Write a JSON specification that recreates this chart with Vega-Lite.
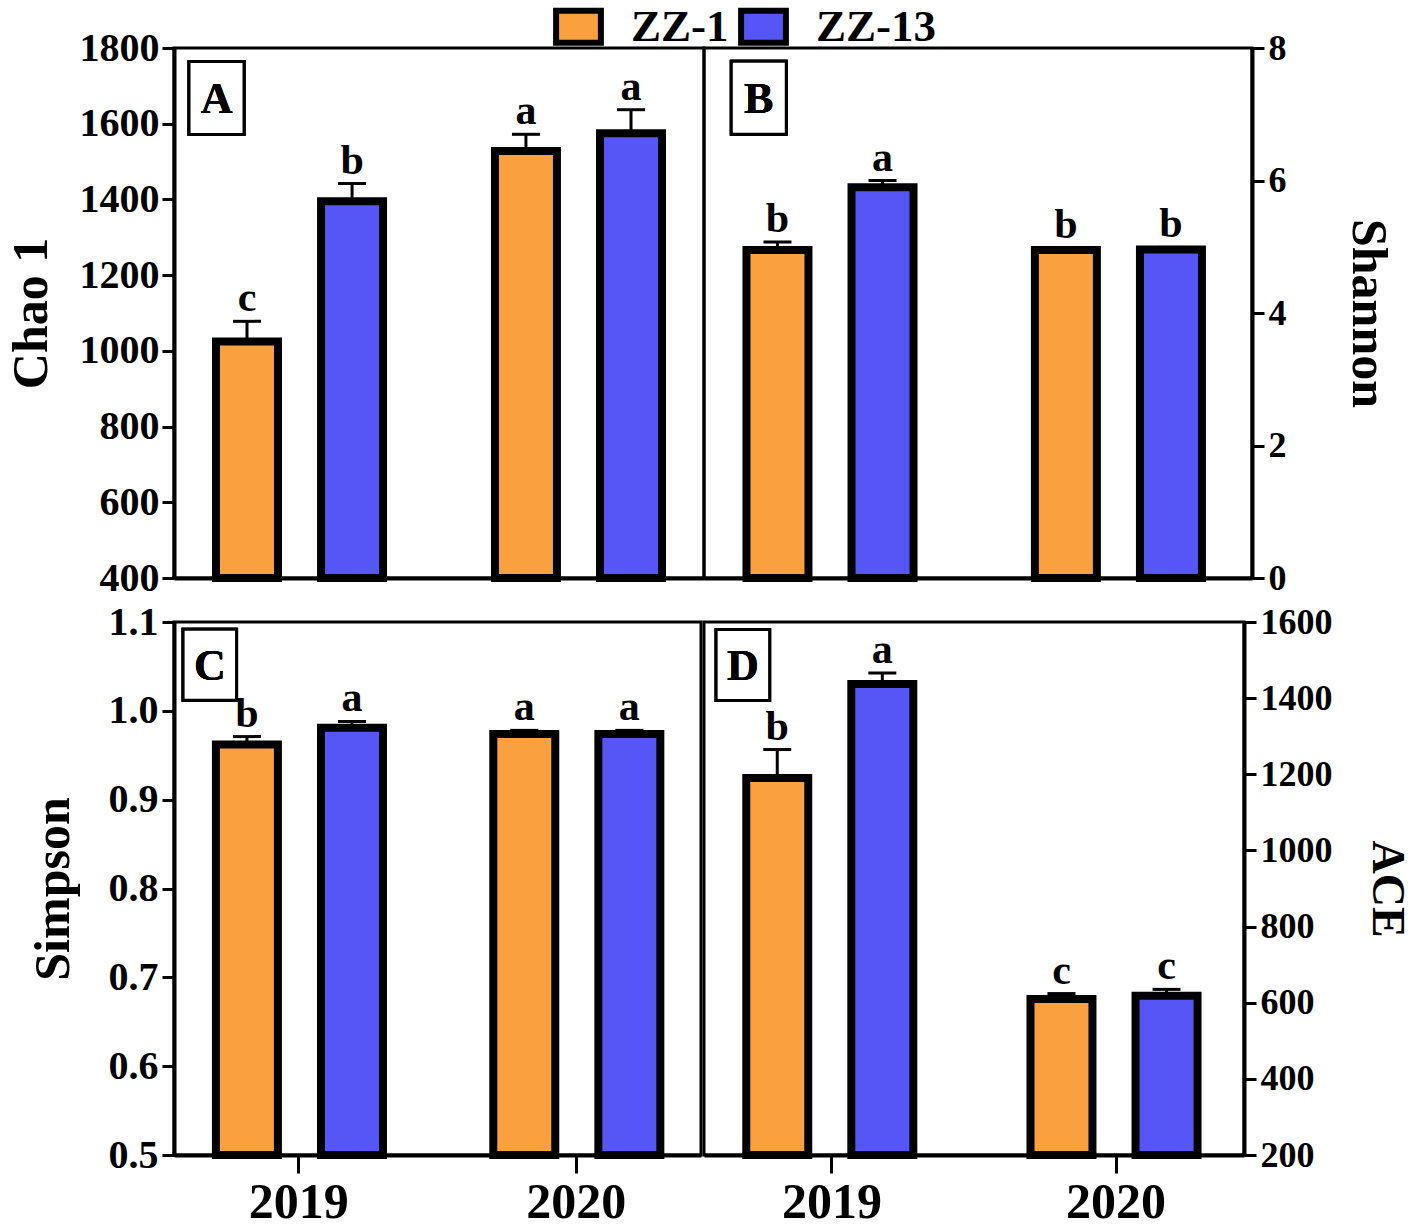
{
  "$schema": "https://vega.github.io/schema/vega-lite/v6.json",
  "background": "white",
  "padding": {"left": 4, "top": 4, "right": 5, "bottom": 5},
  "datasets": {
    "chao": [
      {"year": "2019", "group": "ZZ-1", "value": 1025, "upper": 1078, "sig": "c"},
      {"year": "2019", "group": "ZZ-13", "value": 1395, "upper": 1442, "sig": "b"},
      {"year": "2020", "group": "ZZ-1", "value": 1528, "upper": 1572, "sig": "a"},
      {"year": "2020", "group": "ZZ-13", "value": 1575, "upper": 1637, "sig": "a"}
    ],
    "shannon": [
      {"year": "2019", "group": "ZZ-1", "value": 4.95, "upper": 5.07, "sig": "b"},
      {"year": "2019", "group": "ZZ-13", "value": 5.9, "upper": 6.0, "sig": "a"},
      {"year": "2020", "group": "ZZ-1", "value": 4.95, "upper": 4.98, "sig": "b"},
      {"year": "2020", "group": "ZZ-13", "value": 4.96, "upper": 4.99, "sig": "b"}
    ],
    "simpson": [
      {"year": "2019", "group": "ZZ-1", "value": 0.962, "upper": 0.971, "sig": "b"},
      {"year": "2019", "group": "ZZ-13", "value": 0.981, "upper": 0.988, "sig": "a"},
      {"year": "2020", "group": "ZZ-1", "value": 0.974, "upper": 0.978, "sig": "a"},
      {"year": "2020", "group": "ZZ-13", "value": 0.974, "upper": 0.978, "sig": "a"}
    ],
    "ace": [
      {"year": "2019", "group": "ZZ-1", "value": 1190, "upper": 1265, "sig": "b"},
      {"year": "2019", "group": "ZZ-13", "value": 1437, "upper": 1466, "sig": "a"},
      {"year": "2020", "group": "ZZ-1", "value": 610, "upper": 624, "sig": "c"},
      {"year": "2020", "group": "ZZ-13", "value": 618, "upper": 635, "sig": "c"}
    ]
  },
  "bounds": "flush",
  "align": "each",
  "columns": 2,
  "spacing": {"row": 44, "column": 0},
  "concat": [
    {
      "width": 530, "height": 530,
      "data": {"name": "chao"},
      "layer": [
        {"mark": {"type": "bar", "stroke": "black", "strokeWidth": 8, "opacity": 1},
         "encoding": {
           "x": {"field": "year", "type": "nominal", "scale": {"paddingInner": 0.2, "paddingOuter": 0.05}, "axis": {"labels": false, "ticks": false, "title": null}},
           "xOffset": {"field": "group", "type": "nominal", "scale": {"paddingInner": 0.41, "paddingOuter": 0.267}},
           "y": {"field": "value", "type": "quantitative", "scale": {"domain": [400, 1800], "zero": false, "nice": false}, "axis": {"orient": "left", "values": [400, 600, 800, 1000, 1200, 1400, 1600, 1800], "format": "d", "title": "Chao 1", "titlePadding": 23, "titleFontSize": 50, "labelFontSize": 40, "labelPadding": 3}},
           "y2": {"datum": 400},
           "color": {"field": "group", "type": "nominal", "scale": {"domain": ["ZZ-1", "ZZ-13"], "range": ["#FAA03F", "#5656F7"]}, "legend": {"title": null}}
         }},
        {"mark": {"type": "rule", "strokeWidth": 3, "color": "black"},
         "encoding": {"x": {"field": "year", "type": "nominal"}, "xOffset": {"field": "group", "type": "nominal"}, "y": {"field": "value", "type": "quantitative"}, "y2": {"field": "upper"}}},
        {"mark": {"type": "tick", "orient": "horizontal", "size": 28, "thickness": 3, "color": "black", "opacity": 1},
         "encoding": {"x": {"field": "year", "type": "nominal"}, "xOffset": {"field": "group", "type": "nominal"}, "y": {"field": "upper", "type": "quantitative"}}},
        {"mark": {"type": "text", "font": "Liberation Serif", "fontWeight": "bold", "fontSize": 42, "baseline": "alphabetic", "dy": -10, "color": "black"},
         "encoding": {"x": {"field": "year", "type": "nominal"}, "xOffset": {"field": "group", "type": "nominal"}, "y": {"field": "upper", "type": "quantitative"}, "text": {"field": "sig"}}},
        {"mark": {"type": "point", "shape": "M-0.753,-1L0.753,-1L0.753,1L-0.753,1Z", "size": 5329, "filled": true, "fill": "white", "stroke": "black", "strokeWidth": 3, "opacity": 1, "xOffset": -83},
         "encoding": {"x": {"datum": "2019"}, "y": {"datum": 1668}}},
        {"mark": {"type": "text", "text": "A", "font": "Liberation Serif", "fontWeight": "bold", "fontSize": 44, "baseline": "middle", "align": "center", "dx": -83, "dy": 2, "color": "black"},
         "encoding": {"x": {"datum": "2019"}, "y": {"datum": 1668}}}
      ]
    },
    {
      "width": 548, "height": 530,
      "data": {"name": "shannon"},
      "layer": [
        {"mark": {"type": "bar", "stroke": "black", "strokeWidth": 8, "opacity": 1},
         "encoding": {
           "x": {"field": "year", "type": "nominal", "scale": {"paddingInner": 0.2, "paddingOuter": 0.05}, "axis": {"labels": false, "ticks": false, "title": null}},
           "xOffset": {"field": "group", "type": "nominal", "scale": {"paddingInner": 0.41, "paddingOuter": 0.267}},
           "y": {"field": "value", "type": "quantitative", "scale": {"domain": [0, 8], "nice": false}, "axis": {"orient": "right", "values": [0, 2, 4, 6, 8], "format": "d", "title": "Shannon", "titlePadding": 56, "titleFontSize": 50, "titleAngle": 90}},
           "y2": {"datum": 0},
           "color": {"field": "group", "type": "nominal", "scale": {"domain": ["ZZ-1", "ZZ-13"], "range": ["#FAA03F", "#5656F7"]}, "legend": {"title": null}}
         }},
        {"mark": {"type": "rule", "strokeWidth": 3, "color": "black"},
         "encoding": {"x": {"field": "year", "type": "nominal"}, "xOffset": {"field": "group", "type": "nominal"}, "y": {"field": "value", "type": "quantitative"}, "y2": {"field": "upper"}}},
        {"mark": {"type": "tick", "orient": "horizontal", "size": 28, "thickness": 3, "color": "black", "opacity": 1},
         "encoding": {"x": {"field": "year", "type": "nominal"}, "xOffset": {"field": "group", "type": "nominal"}, "y": {"field": "upper", "type": "quantitative"}}},
        {"mark": {"type": "text", "font": "Liberation Serif", "fontWeight": "bold", "fontSize": 42, "baseline": "alphabetic", "dy": -10, "color": "black"},
         "encoding": {"x": {"field": "year", "type": "nominal"}, "xOffset": {"field": "group", "type": "nominal"}, "y": {"field": "upper", "type": "quantitative"}, "text": {"field": "sig"}}},
        {"mark": {"type": "point", "shape": "M-0.753,-1L0.753,-1L0.753,1L-0.753,1Z", "size": 5329, "filled": true, "fill": "white", "stroke": "black", "strokeWidth": 3, "opacity": 1, "xOffset": -75},
         "encoding": {"x": {"datum": "2019"}, "y": {"datum": 7.25}}},
        {"mark": {"type": "text", "text": "B", "font": "Liberation Serif", "fontWeight": "bold", "fontSize": 44, "baseline": "middle", "align": "center", "dx": -75, "dy": 2, "color": "black"},
         "encoding": {"x": {"datum": "2019"}, "y": {"datum": 7.25}}}
      ]
    },
    {
      "width": 527, "height": 533,
      "data": {"name": "simpson"},
      "layer": [
        {"mark": {"type": "bar", "stroke": "black", "strokeWidth": 8, "opacity": 1},
         "encoding": {
           "x": {"field": "year", "type": "nominal", "scale": {"paddingInner": 0.2, "paddingOuter": 0.05}, "axis": {"title": null, "labelAngle": 0, "tickSize": 18, "labelPadding": 4, "labelFontSize": 50}},
           "xOffset": {"field": "group", "type": "nominal", "scale": {"paddingInner": 0.41, "paddingOuter": 0.267}},
           "y": {"field": "value", "type": "quantitative", "scale": {"domain": [0.5, 1.1], "zero": false, "nice": false}, "axis": {"orient": "left", "values": [0.5, 0.6, 0.7, 0.8, 0.9, 1.0, 1.1], "format": ".1f", "title": "Simpson", "titlePadding": 30, "titleFontSize": 50, "labelFontSize": 40}},
           "y2": {"datum": 0.5},
           "color": {"field": "group", "type": "nominal", "scale": {"domain": ["ZZ-1", "ZZ-13"], "range": ["#FAA03F", "#5656F7"]}, "legend": {"title": null}}
         }},
        {"mark": {"type": "rule", "strokeWidth": 3, "color": "black"},
         "encoding": {"x": {"field": "year", "type": "nominal"}, "xOffset": {"field": "group", "type": "nominal"}, "y": {"field": "value", "type": "quantitative"}, "y2": {"field": "upper"}}},
        {"mark": {"type": "tick", "orient": "horizontal", "size": 28, "thickness": 3, "color": "black", "opacity": 1},
         "encoding": {"x": {"field": "year", "type": "nominal"}, "xOffset": {"field": "group", "type": "nominal"}, "y": {"field": "upper", "type": "quantitative"}}},
        {"mark": {"type": "text", "font": "Liberation Serif", "fontWeight": "bold", "fontSize": 42, "baseline": "alphabetic", "dy": -10, "color": "black"},
         "encoding": {"x": {"field": "year", "type": "nominal"}, "xOffset": {"field": "group", "type": "nominal"}, "y": {"field": "upper", "type": "quantitative"}, "text": {"field": "sig"}}},
        {"mark": {"type": "point", "shape": "M-0.753,-1L0.753,-1L0.753,1L-0.753,1Z", "size": 5041, "filled": true, "fill": "white", "stroke": "black", "strokeWidth": 3, "opacity": 1, "xOffset": -89},
         "encoding": {"x": {"datum": "2019"}, "y": {"datum": 1.052}}},
        {"mark": {"type": "text", "text": "C", "font": "Liberation Serif", "fontWeight": "bold", "fontSize": 44, "baseline": "middle", "align": "center", "dx": -89, "dy": 2, "color": "black"},
         "encoding": {"x": {"datum": "2019"}, "y": {"datum": 1.052}}}
      ]
    },
    {
      "width": 540, "height": 533,
      "data": {"name": "ace"},
      "layer": [
        {"mark": {"type": "bar", "stroke": "black", "strokeWidth": 8, "opacity": 1},
         "encoding": {
           "x": {"field": "year", "type": "nominal", "scale": {"paddingInner": 0.2, "paddingOuter": 0.05}, "axis": {"title": null, "labelAngle": 0, "tickSize": 18, "labelPadding": 4, "labelFontSize": 50}},
           "xOffset": {"field": "group", "type": "nominal", "scale": {"paddingInner": 0.41, "paddingOuter": 0.267}},
           "y": {"field": "value", "type": "quantitative", "scale": {"domain": [200, 1600], "zero": false, "nice": false}, "axis": {"orient": "right", "values": [200, 400, 600, 800, 1000, 1200, 1400, 1600], "format": "d", "title": "ACE", "titlePadding": 30, "titleAngle": 90}},
           "y2": {"datum": 200},
           "color": {"field": "group", "type": "nominal", "scale": {"domain": ["ZZ-1", "ZZ-13"], "range": ["#FAA03F", "#5656F7"]}, "legend": {"title": null}}
         }},
        {"mark": {"type": "rule", "strokeWidth": 3, "color": "black"},
         "encoding": {"x": {"field": "year", "type": "nominal"}, "xOffset": {"field": "group", "type": "nominal"}, "y": {"field": "value", "type": "quantitative"}, "y2": {"field": "upper"}}},
        {"mark": {"type": "tick", "orient": "horizontal", "size": 28, "thickness": 3, "color": "black", "opacity": 1},
         "encoding": {"x": {"field": "year", "type": "nominal"}, "xOffset": {"field": "group", "type": "nominal"}, "y": {"field": "upper", "type": "quantitative"}}},
        {"mark": {"type": "text", "font": "Liberation Serif", "fontWeight": "bold", "fontSize": 42, "baseline": "alphabetic", "dy": -10, "color": "black"},
         "encoding": {"x": {"field": "year", "type": "nominal"}, "xOffset": {"field": "group", "type": "nominal"}, "y": {"field": "upper", "type": "quantitative"}, "text": {"field": "sig"}}},
        {"mark": {"type": "point", "shape": "M-0.753,-1L0.753,-1L0.753,1L-0.753,1Z", "size": 5041, "filled": true, "fill": "white", "stroke": "black", "strokeWidth": 3, "opacity": 1, "xOffset": -89},
         "encoding": {"x": {"datum": "2019"}, "y": {"datum": 1487}}},
        {"mark": {"type": "text", "text": "D", "font": "Liberation Serif", "fontWeight": "bold", "fontSize": 44, "baseline": "middle", "align": "center", "dx": -89, "dy": 2, "color": "black"},
         "encoding": {"x": {"datum": "2019"}, "y": {"datum": 1487}}}
      ]
    }
  ],
  "config": {
    "view": {"stroke": "black", "strokeWidth": 3},
    "axis": {
      "grid": false,
      "domainColor": "black", "domainWidth": 4,
      "tickColor": "black", "tickWidth": 3, "tickSize": 12,
      "labelFont": "Liberation Serif", "labelFontWeight": "bold", "labelFontSize": 36, "labelColor": "black", "labelPadding": 4,
      "titleFont": "Liberation Serif", "titleFontWeight": "bold", "titleFontSize": 46, "titleColor": "black"
    },
    "legend": {
      "orient": "none", "legendX": 382, "legendY": -44, "direction": "horizontal",
      "symbolType": "M-1.4,-1L1.4,-1L1.4,1L-1.4,1Z", "symbolSize": 1024,
      "symbolStrokeColor": "black", "symbolStrokeWidth": 6, "symbolOpacity": 1,
      "labelFont": "Liberation Serif", "labelFontWeight": "bold", "labelFontSize": 45, "labelColor": "black",
      "labelOffset": 30, "columnPadding": 0, "padding": 0
    }
  }
}
